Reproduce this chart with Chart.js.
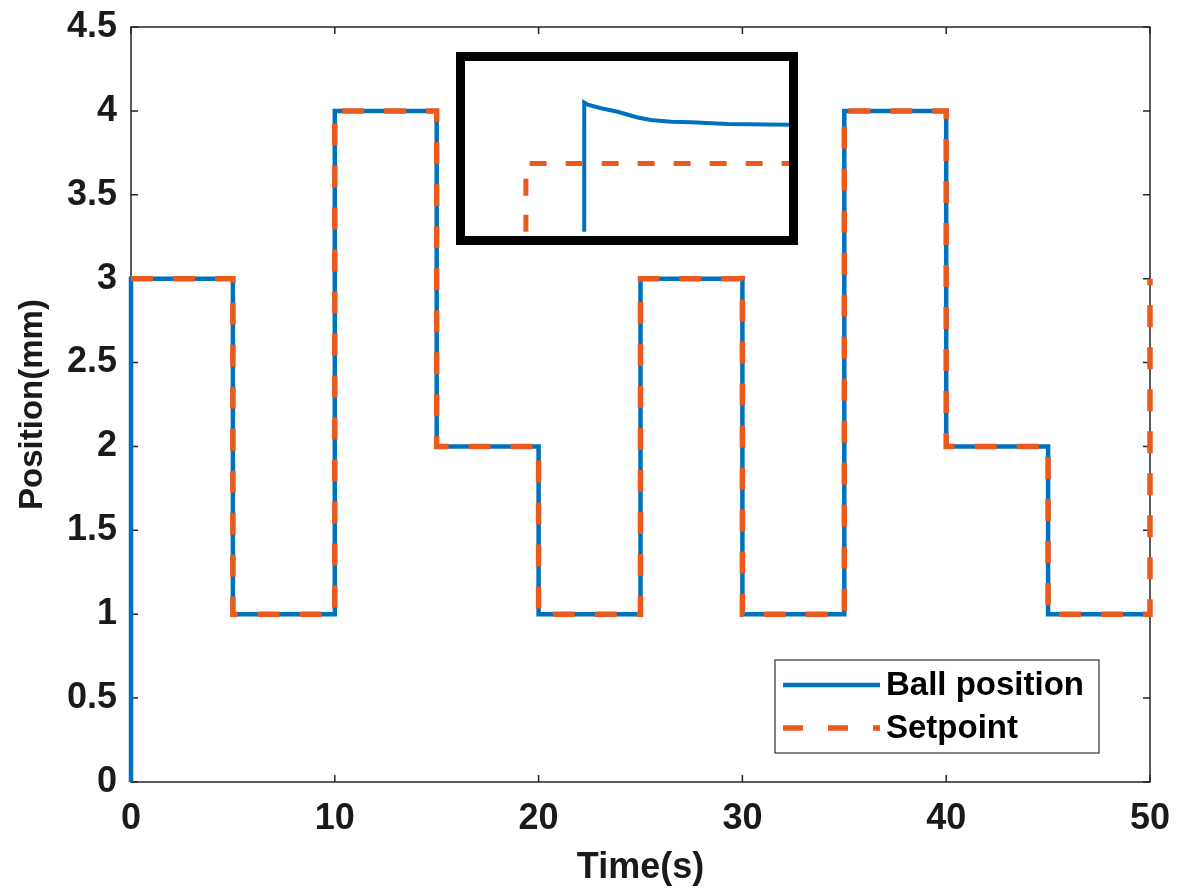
<!DOCTYPE html>
<html>
<head>
<meta charset="utf-8">
<script src="https://cdn.jsdelivr.net/npm/chart.js@4.4.1/dist/chart.umd.min.js"></script>
<style>
  body { margin: 0; background: #fff; }
  #wrap { position: relative; width: 1177px; height: 893px; }
  #mainChart { position: absolute; left: 0; top: 0; }
  #insetBox { position: absolute; left: 456px; top: 52px; width: 324px; height: 175px; border: 9px solid #000; background: #fff; }
  #insetChart { display: block; }
</style>
</head>
<body>
<div id="wrap">
  <canvas id="mainChart" width="1177" height="893"></canvas>
  <div id="insetBox"><canvas id="insetChart" width="324" height="175"></canvas></div>
</div>
<script>
// main plot data (step changes every 5 s)
const ballTime = [0, 0, 5, 10, 15, 20, 25, 30, 35, 40, 45, 50];
const ballPos  = [0, 3, 1, 4, 2, 1, 3, 1, 4, 2, 1, 1];
const setTime  = [0, 5, 10, 15, 20, 25, 30, 35, 40, 45, 50];
const setPos   = [3, 1, 4, 2, 1, 3, 1, 4, 2, 1, 3];

const xTickLabels = ['0', '10', '20', '30', '40', '50'];
const yTickLabels = ['0', '0.5', '1', '1.5', '2', '2.5', '3', '3.5', '4', '4.5'];

// zoomed inset around the step at t = 10 s
const insetBallTime = [10.09, 10.09, 10.0955, 10.116, 10.1415, 10.1725, 10.193, 10.224, 10.255, 10.3115, 10.406];
const insetBallPos  = [3.9844, 4.0139, 4.0134, 4.0126, 4.0118, 4.0105, 4.0099, 4.0095, 4.0094, 4.009, 4.0088];
const insetSetTime  = [10.0, 10.0, 10.406];
const insetSetPos   = [3.9844, 4.0, 4.0];

const BLUE = '#0072BD';
const ORANGE = '#EA5A1C';
const FONT = "'Liberation Sans', Arial, sans-serif";
const INK = '#1a1a1a';

function toPoints(xs, ys){ return xs.map((x, i) => ({ x, y: ys[i] })); }

// box around plot area with inward ticks on all four sides (matlab look)
// drawn before the lines so the traces sit on top of the frame
const frame = {
  id: 'frame',
  beforeDatasetsDraw(chart){
    const { ctx, chartArea: a, scales } = chart;
    ctx.save();
    ctx.strokeStyle = '#262626';
    ctx.lineWidth = 1.5;
    ctx.strokeRect(a.left, a.top, a.right - a.left, a.bottom - a.top);
    const len = 7;
    ctx.beginPath();
    xTickLabels.forEach(t => {
      const px = scales.x.getPixelForValue(parseFloat(t));
      ctx.moveTo(px, a.bottom); ctx.lineTo(px, a.bottom - len);
      ctx.moveTo(px, a.top); ctx.lineTo(px, a.top + len);
    });
    yTickLabels.forEach(t => {
      const py = scales.y.getPixelForValue(parseFloat(t));
      ctx.moveTo(a.left, py); ctx.lineTo(a.left + len, py);
      ctx.moveTo(a.right, py); ctx.lineTo(a.right - len, py);
    });
    ctx.stroke();
    ctx.restore();
  }
};

// legend box in the lower right corner
const insideLegend = {
  id: 'insideLegend',
  afterDraw(chart){
    const { ctx, chartArea: a } = chart;
    const w = 324, h = 93;
    const x0 = a.right - 51 - w, y0 = a.bottom - 29 - h;
    ctx.save();
    ctx.fillStyle = '#fff';
    ctx.fillRect(x0, y0, w, h);
    ctx.strokeStyle = '#333';
    ctx.lineWidth = 1.2;
    ctx.strokeRect(x0, y0, w, h);
    const items = [chart.data.datasets[0], chart.data.datasets[1]];
    items.forEach((ds, i) => {
      const y = y0 + 25 + i * 43;
      ctx.beginPath();
      ctx.strokeStyle = ds.borderColor;
      ctx.lineWidth = ds.borderWidth;
      ctx.setLineDash(i === 1 ? [20, 25] : []);
      ctx.moveTo(x0 + 8, y);
      ctx.lineTo(x0 + 105, y);
      ctx.stroke();
      ctx.setLineDash([]);
      ctx.fillStyle = '#000';
      ctx.font = 'bold 33px ' + FONT;
      ctx.textBaseline = 'middle';
      ctx.textAlign = 'left';
      ctx.fillText(ds.label, x0 + 111, y + 1);
    });
    ctx.restore();
  }
};

new Chart(document.getElementById('mainChart'), {
  type: 'line',
  data: {
    datasets: [
      { label: 'Ball position', data: toPoints(ballTime, ballPos), borderColor: BLUE,
        borderWidth: 4.5, pointRadius: 0, stepped: true, clip: false, order: 2 },
      { label: 'Setpoint', data: toPoints(setTime, setPos), borderColor: ORANGE,
        borderWidth: 5.5, borderDash: [22, 20], pointRadius: 0, stepped: true, clip: false, order: 1 }
    ]
  },
  options: {
    responsive: false,
    animation: false,
    layout: { padding: { top: 27, right: 27, left: 0, bottom: 0 } },
    plugins: { legend: { display: false }, tooltip: { enabled: false } },
    scales: {
      x: {
        type: 'linear', min: 0, max: 50,
        grid: { display: false, drawTicks: false },
        border: { display: false },
        ticks: { stepSize: 10, padding: 15, color: INK, font: { family: FONT, size: 36, weight: 'bold' },
          callback: (v, i) => xTickLabels[i] },
        title: { display: true, text: 'Time(s)', color: INK, padding: { top: 0, bottom: 3 },
          font: { family: FONT, size: 36, weight: 'bold' } },
        afterFit: s => { s.height = 111; s.paddingLeft = 0; s.paddingRight = 0; }
      },
      y: {
        type: 'linear', min: 0, max: 4.5,
        grid: { display: false, drawTicks: false },
        border: { display: false },
        ticks: { stepSize: 0.5, padding: 14, color: INK, font: { family: FONT, size: 36, weight: 'bold' },
          callback: (v, i) => yTickLabels[i] },
        title: { display: true, text: 'Position(mm)', color: INK, padding: { top: 13, bottom: 0 },
          font: { family: FONT, size: 33, weight: 'bold' } },
        afterFit: s => { s.width = 131; s.paddingTop = 0; s.paddingBottom = 0; }
      }
    }
  },
  plugins: [frame, insideLegend]
});

new Chart(document.getElementById('insetChart'), {
  type: 'line',
  data: {
    datasets: [
      { data: toPoints(insetBallTime, insetBallPos), borderColor: BLUE, borderWidth: 4,
        pointRadius: 0, tension: 0, clip: false, order: 2 },
      { data: toPoints(insetSetTime, insetSetPos), borderColor: ORANGE, borderWidth: 5,
        borderDash: [17, 19], pointRadius: 0, tension: 0, clip: false, order: 1 }
    ]
  },
  options: {
    responsive: false,
    animation: false,
    layout: { padding: 0 },
    plugins: { legend: { display: false }, tooltip: { enabled: false } },
    scales: {
      x: { type: 'linear', display: false, min: 9.906, max: 10.406 },
      y: { type: 'linear', display: false, min: 3.9834, max: 4.0234 }
    }
  }
});
</script>
</body>
</html>
